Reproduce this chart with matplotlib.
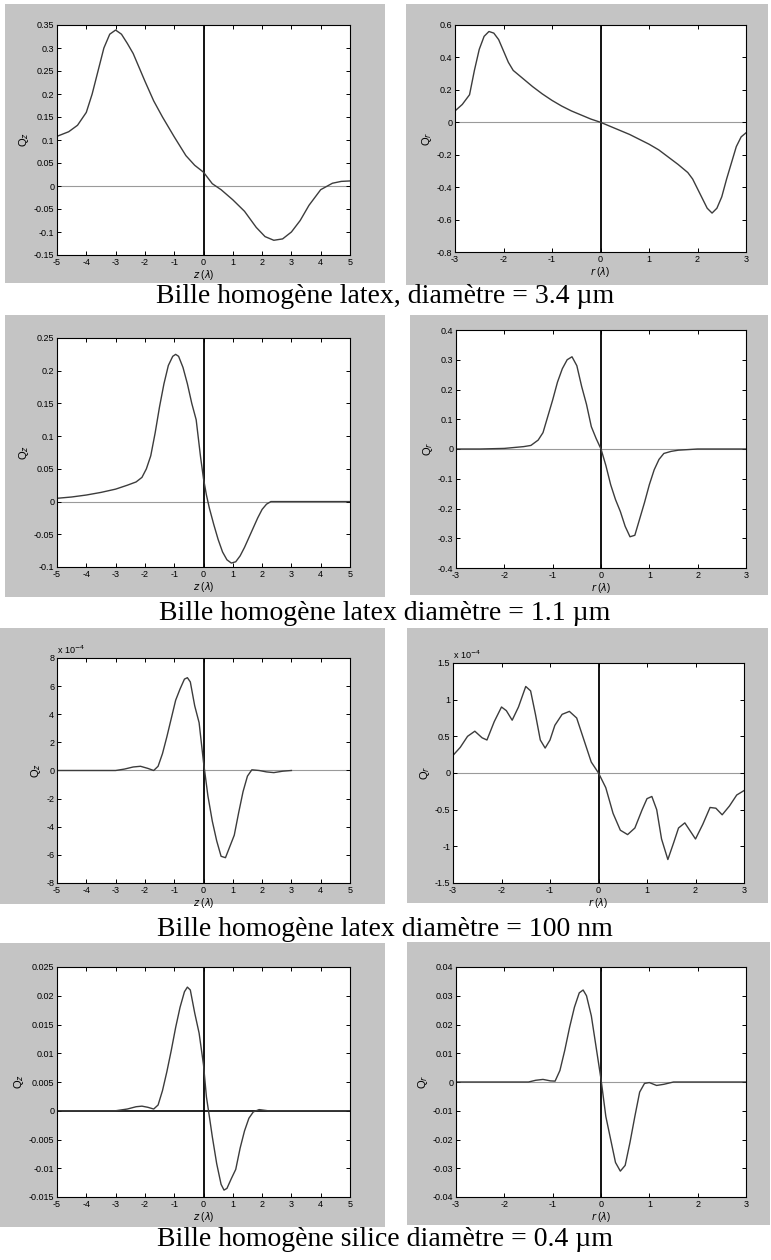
import matplotlib
matplotlib.use("Agg")
import matplotlib.pyplot as plt
from matplotlib.patches import Rectangle

# ---- data ----
# row 1 : latex bead, diameter 3.4 um
z1 = [-5, -4.6, -4.3, -4.0, -3.8, -3.6, -3.4, -3.2, -3.0, -2.8, -2.6, -2.4, -2.2, -2.0,
      -1.7, -1.4, -1.0, -0.6, -0.3, 0, 0.3, 0.6, 1.0, 1.4, 1.8, 2.1, 2.4, 2.7, 3.0, 3.3,
      3.6, 4.0, 4.4, 4.7, 5]
qz1 = [0.108, 0.118, 0.132, 0.160, 0.200, 0.250, 0.300, 0.330, 0.339, 0.330, 0.310, 0.288,
       0.258, 0.228, 0.185, 0.150, 0.107, 0.066, 0.045, 0.030, 0.005, -0.008, -0.030, -0.055,
       -0.090, -0.110, -0.118, -0.115, -0.100, -0.075, -0.042, -0.008, 0.006, 0.010, 0.011]
r1 = [-3, -2.85, -2.7, -2.6, -2.5, -2.4, -2.3, -2.2, -2.1, -2.0, -1.9, -1.8, -1.6, -1.4,
      -1.2, -1.0, -0.8, -0.6, -0.4, -0.2, 0, 0.2, 0.4, 0.6, 0.8, 1.0, 1.2, 1.4, 1.6, 1.8,
      1.9, 2.0, 2.1, 2.2, 2.3, 2.4, 2.5, 2.6, 2.7, 2.8, 2.9, 3.0]
qr1 = [0.07, 0.11, 0.17, 0.32, 0.45, 0.53, 0.56, 0.55, 0.51, 0.44, 0.37, 0.32, 0.27, 0.22,
       0.175, 0.135, 0.10, 0.07, 0.045, 0.02, 0, -0.025, -0.05, -0.075, -0.105, -0.135,
       -0.17, -0.215, -0.26, -0.31, -0.35, -0.41, -0.47, -0.53, -0.56, -0.53, -0.46, -0.35,
       -0.25, -0.15, -0.09, -0.065]

# row 2 : latex bead, diameter 1.1 um
z2 = [-5, -4.5, -4, -3.5, -3, -2.6, -2.3, -2.1, -1.95, -1.8, -1.65, -1.5, -1.35, -1.2,
      -1.05, -0.95, -0.85, -0.7, -0.55, -0.4, -0.25, -0.1, 0, 0.1, 0.2, 0.35, 0.5, 0.65,
      0.8, 0.95, 1.1, 1.25, 1.4, 1.55, 1.7, 1.85, 2.0, 2.15, 2.3, 2.6, 3, 4, 5]
qz2 = [0.005, 0.007, 0.010, 0.014, 0.019, 0.025, 0.030, 0.037, 0.05, 0.07, 0.105, 0.145,
       0.180, 0.208, 0.222, 0.225, 0.222, 0.205, 0.180, 0.150, 0.125, 0.068, 0.035, 0.01,
       -0.01, -0.035, -0.058, -0.077, -0.089, -0.094, -0.092, -0.083, -0.070, -0.055,
       -0.040, -0.025, -0.012, -0.004, 0, 0, 0, 0, 0]
r2 = [-3, -2.5, -2.0, -1.8, -1.6, -1.45, -1.3, -1.2, -1.1, -1.0, -0.9, -0.8, -0.7, -0.6,
      -0.5, -0.4, -0.3, -0.2, -0.1, 0, 0.1, 0.2, 0.3, 0.4, 0.5, 0.6, 0.7, 0.8, 0.9, 1.0,
      1.1, 1.2, 1.3, 1.45, 1.6, 1.8, 2.0, 2.3, 2.6, 3]
qr2 = [0, 0, 0.002, 0.005, 0.008, 0.012, 0.03, 0.055, 0.11, 0.165, 0.225, 0.27, 0.30, 0.31,
       0.28, 0.21, 0.15, 0.075, 0.035, 0, -0.055, -0.12, -0.17, -0.21, -0.26, -0.295,
       -0.29, -0.235, -0.18, -0.12, -0.07, -0.035, -0.015, -0.008, -0.004, -0.002, 0, 0,
       0, 0]

# row 3 : latex bead, diameter 100 nm (values x 1e-4)
z3 = [-5, -4, -3, -2.7, -2.4, -2.15, -1.9, -1.7, -1.55, -1.4, -1.25, -1.1, -0.95, -0.8,
      -0.65, -0.55, -0.45, -0.3, -0.15, 0, 0.15, 0.3, 0.45, 0.6, 0.75, 0.9, 1.05, 1.2,
      1.35, 1.5, 1.65, 1.9, 2.15, 2.4, 2.7, 3.0]
qz3 = [0, 0, 0, 0.1, 0.25, 0.3, 0.15, 0, 0.3, 1.2, 2.4, 3.7, 5.0, 5.8, 6.5, 6.6, 6.3, 4.6,
       3.4, 0.6, -1.8, -3.6, -5.0, -6.1, -6.2, -5.4, -4.6, -3.0, -1.5, -0.4, 0.05, 0,
       -0.1, -0.15, -0.05, 0]
r3 = [-3, -2.85, -2.7, -2.55, -2.4, -2.3, -2.15, -2.0, -1.9, -1.78, -1.65, -1.5, -1.4,
      -1.3, -1.2, -1.1, -1.0, -0.9, -0.75, -0.6, -0.45, -0.3, -0.15, 0, 0.15, 0.3, 0.45,
      0.6, 0.75, 0.9, 1.0, 1.1, 1.2, 1.3, 1.43, 1.55, 1.65, 1.78, 1.9, 2.0, 2.15, 2.3,
      2.42, 2.55, 2.7, 2.85, 3.0]
qr3 = [0.24, 0.35, 0.5, 0.57, 0.48, 0.45, 0.7, 0.9, 0.85, 0.72, 0.9, 1.18, 1.12, 0.8, 0.45,
       0.34, 0.45, 0.65, 0.8, 0.84, 0.75, 0.45, 0.15, 0, -0.2, -0.55, -0.78, -0.84, -0.75,
       -0.5, -0.35, -0.32, -0.5, -0.9, -1.18, -0.95, -0.75, -0.68, -0.8, -0.9, -0.7, -0.47,
       -0.48, -0.57, -0.45, -0.3, -0.24]

# row 4 : silica bead, diameter 0.4 um
z4 = [-5, -4, -3, -2.6, -2.3, -2.1, -1.9, -1.7, -1.55, -1.4, -1.25, -1.1, -0.95, -0.8,
      -0.65, -0.55, -0.45, -0.3, -0.15, 0, 0.1, 0.2, 0.3, 0.45, 0.6, 0.7, 0.8, 0.95, 1.1,
      1.25, 1.4, 1.55, 1.7, 1.9, 2.2, 3, 4, 5]
qz4 = [0, 0, 0, 0.0003, 0.0007, 0.0008, 0.0006, 0.0003, 0.001, 0.0035, 0.0068, 0.0105,
       0.0145, 0.0180, 0.0207, 0.0215, 0.021, 0.0170, 0.0135, 0.008, 0.0024, -0.001,
       -0.0045, -0.0092, -0.0128, -0.0138, -0.0135, -0.0118, -0.0102, -0.0065, -0.0035,
       -0.0013, -0.0002, 0.0002, 0, 0, 0, 0]
r4 = [-3, -2, -1.5, -1.35, -1.2, -1.05, -0.95, -0.85, -0.75, -0.65, -0.55, -0.45, -0.37,
      -0.3, -0.2, -0.1, 0, 0.1, 0.2, 0.3, 0.4, 0.5, 0.6, 0.7, 0.8, 0.9, 1.0, 1.15, 1.3,
      1.5, 2, 3]
qr4 = [0, 0, 0, 0.0006, 0.0009, 0.0004, 0.0003, 0.004, 0.011, 0.019, 0.026, 0.031, 0.032,
       0.030, 0.023, 0.012, 0.001, -0.012, -0.020, -0.028, -0.031, -0.029, -0.021, -0.012,
       -0.0035, -0.0005, -0.0002, -0.0012, -0.0008, 0, 0, 0]

captions = ["Bille homogène latex, diamètre = 3.4 µm",
            "Bille homogène latex diamètre = 1.1 µm",
            "Bille homogène latex diamètre = 100 nm",
            "Bille homogène silice diamètre = 0.4 µm"]

yt_z = [[-0.15, -0.1, -0.05, 0, 0.05, 0.1, 0.15, 0.2, 0.25, 0.3, 0.35],
        [-0.1, -0.05, 0, 0.05, 0.1, 0.15, 0.2, 0.25],
        [-8, -6, -4, -2, 0, 2, 4, 6, 8],
        [-0.015, -0.01, -0.005, 0, 0.005, 0.01, 0.015, 0.02, 0.025]]
yt_r = [[-0.8, -0.6, -0.4, -0.2, 0, 0.2, 0.4, 0.6],
        [-0.4, -0.3, -0.2, -0.1, 0, 0.1, 0.2, 0.3, 0.4],
        [-1.5, -1, -0.5, 0, 0.5, 1, 1.5],
        [-0.04, -0.03, -0.02, -0.01, 0, 0.01, 0.02, 0.03, 0.04]]
xt_z = [-5, -4, -3, -2, -1, 0, 1, 2, 3, 4, 5]
xt_r = [-3, -2, -1, 0, 1, 2, 3]
exps = [None, None, "-4", None]
exps_r = [None, None, "-4", None]

W, H = 771, 1260
GRAY = "#c4c4c4"
CURVE = "#3c3c3c"

# panel boxes in pixels (x0, y0, x1, y1), top-left origin
bg_left = [(5, 4, 385, 283), (5, 315, 385, 597), (0, 628, 385, 904), (0, 943, 385, 1227)]
bg_right = [(406, 4, 768, 285), (410, 315, 768, 595), (407, 628, 768, 903), (407, 942, 770, 1225)]
ax_left = [(57, 25, 350, 255), (57, 338, 350, 567), (57, 658, 350, 883), (57, 967, 350, 1197)]
ax_right = [(455, 25, 746, 252), (456, 330, 746, 568), (453, 663, 744, 883), (456, 967, 746, 1197)]
cap_y = [296, 613, 930, 1240]


def fig_rect(b):
    x0, y0, x1, y1 = b
    return [x0 / W, 1 - y1 / H, (x1 - x0) / W, (y1 - y0) / H]


def fmt(v):
    return f"{v:g}"


def draw_panel(ax, x, y, xticks, yticks, xlab, ylab, expo=None, zero_black=False):
    ax.set_facecolor("white")
    ax.axhline(0, color="black" if zero_black else "#9a9a9a",
               lw=1.2 if zero_black else 0.8, zorder=1)
    ax.axvline(0, color="black", lw=1.3, zorder=1)
    ax.plot(x, y, color=CURVE, lw=1.0, zorder=2)
    ax.set_xlim(xticks[0], xticks[-1])
    ax.set_ylim(yticks[0], yticks[-1])
    ax.set_xticks(xticks)
    ax.set_yticks(yticks)
    ax.set_xticklabels([fmt(v) for v in xticks])
    ax.set_yticklabels([fmt(v) for v in yticks])
    ax.tick_params(direction="in", length=3, width=0.7, labelsize=6.5, pad=2,
                   top=True, right=True)
    for sp in ax.spines.values():
        sp.set_linewidth(0.8)
    ax.set_xlabel(xlab, fontsize=7, labelpad=1)
    ax.set_ylabel(ylab, fontsize=8, labelpad=2)
    if expo is not None:
        ax.text(0.0, 1.01, r"x 10$^{%s}$" % expo, transform=ax.transAxes,
                fontsize=6.5, ha="left", va="bottom")


plt.rcParams["font.family"] = ["Liberation Sans", "DejaVu Sans"]
fig = plt.figure(figsize=(W / 100, H / 100), dpi=100)

data_z = [(z1, qz1), (z2, qz2), (z3, qz3), (z4, qz4)]
data_r = [(r1, qr1), (r2, qr2), (r3, qr3), (r4, qr4)]

for i in range(4):
    for b in (bg_left[i], bg_right[i]):
        fr = fig_rect(b)
        fig.patches.append(Rectangle((fr[0], fr[1]), fr[2], fr[3], transform=fig.transFigure,
                                     facecolor=GRAY, edgecolor="none", zorder=-10))
    axl = fig.add_axes(fig_rect(ax_left[i]))
    draw_panel(axl, data_z[i][0], data_z[i][1], xt_z, yt_z[i], r"$z$ ($\lambda$)",
               r"Q$_z$", exps[i], zero_black=(i == 3))
    axr = fig.add_axes(fig_rect(ax_right[i]))
    draw_panel(axr, data_r[i][0], data_r[i][1], xt_r, yt_r[i], r"$r$ ($\lambda$)",
               r"Q$_r$", exps_r[i])
    fig.text(385 / W, 1 - cap_y[i] / H, captions[i], ha="center", va="center",
             fontsize=20, family="Liberation Serif")

fig.savefig("out.png", dpi=100)
